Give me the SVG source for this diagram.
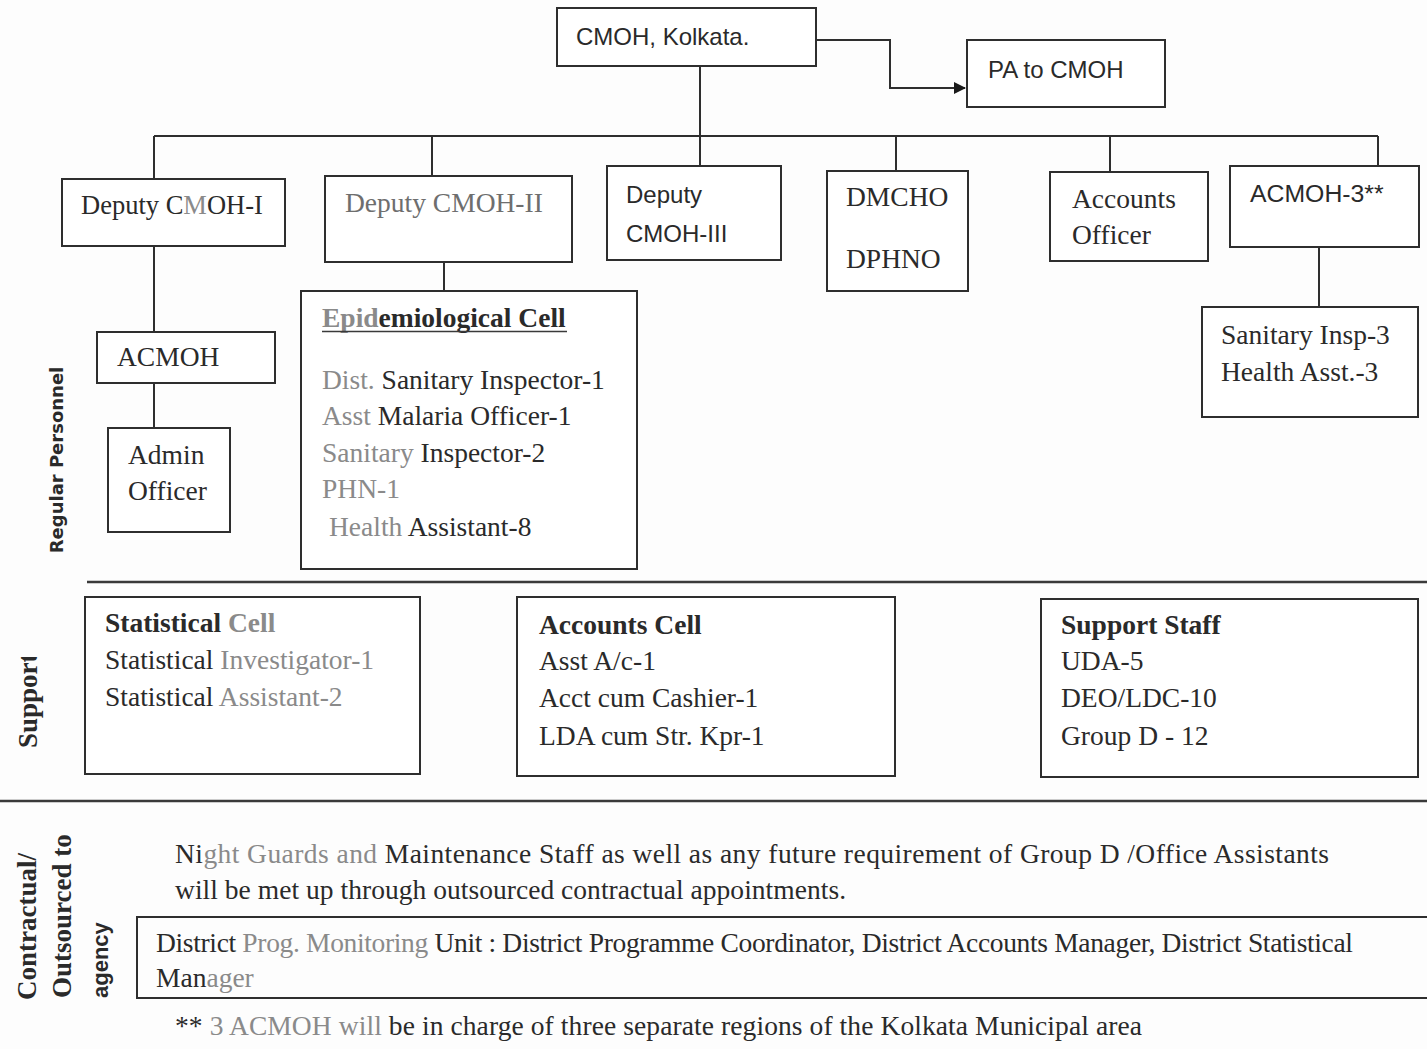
<svg xmlns="http://www.w3.org/2000/svg" width="1427" height="1049" viewBox="0 0 1427 1049">
  <defs>
    <style>
      .box { fill: #ffffff; stroke: #2e2e2e; stroke-width: 2; }
      .ln { fill: none; stroke: #2e2e2e; stroke-width: 2; }
      .sep { fill: none; stroke: #3a3a3a; stroke-width: 2.5; }
      .serif { font-family: "Liberation Serif", "Times New Roman", serif; font-size: 27.5px; fill: #2a2a2a; }
      .sans { font-family: "Liberation Sans", Arial, sans-serif; font-size: 24px; fill: #2a2a2a; }
      .b { font-weight: bold; }
      .fade { fill: #8a8a8a; }
      .side { font-family: "Liberation Serif", "Times New Roman", serif; font-size: 27px; font-weight: bold; fill: #2a2a2a; }
    </style>
    <marker id="arrow" viewBox="0 0 12 12" refX="11" refY="6" markerWidth="12" markerHeight="12" markerUnits="userSpaceOnUse" orient="auto">
      <path d="M0,0 L12,6 L0,12 Z" fill="#1a1a1a"/>
    </marker>
    <clipPath id="clipSupport"><rect x="0" y="657" width="60" height="100"/></clipPath>
    <clipPath id="clipAgency"><rect x="95" y="900" width="20" height="110"/></clipPath>
  </defs>

  <rect x="0" y="0" width="1427" height="1049" fill="#fdfdfd"/>

  <!-- connectors -->
  <g id="connectors">
    <path class="ln" d="M816,40 H890 V88 H965" marker-end="url(#arrow)"/>
    <path class="ln" d="M700,66 V136"/>
    <path class="ln" d="M154,136 H1378"/>
    <path class="ln" d="M154,136 V179"/>
    <path class="ln" d="M432,136 V176"/>
    <path class="ln" d="M700,136 V166"/>
    <path class="ln" d="M896,136 V171"/>
    <path class="ln" d="M1110,136 V172"/>
    <path class="ln" d="M1378,136 V166"/>
    <path class="ln" d="M154,246 V332"/>
    <path class="ln" d="M154,383 V428"/>
    <path class="ln" d="M444,262 V291"/>
    <path class="ln" d="M1319,247 V307"/>
  </g>

  <!-- section dividers -->
  <g id="dividers">
    <path class="sep" d="M87,582 H1427"/>
    <path class="sep" d="M0,801 H1427"/>
  </g>

  <!-- section labels -->
  <g id="section-labels">
    <text transform="translate(63,460) rotate(-90)" text-anchor="middle" font-family="'DejaVu Sans', Verdana, sans-serif" font-size="18" font-weight="bold" fill="#2a2a2a">Regular Personnel</text>
    <g clip-path="url(#clipSupport)">
      <text class="side" transform="translate(37,748) rotate(-90)">Support</text>
    </g>
    <text class="side" transform="translate(36,1000) rotate(-90)">Contractual/</text>
    <text class="side" transform="translate(71,998) rotate(-90)">Outsourced to</text>
    <g clip-path="url(#clipAgency)">
      <text transform="translate(108,998) rotate(-90)" font-family="'Liberation Sans', Arial, sans-serif" font-size="22" font-weight="bold" fill="#2a2a2a">agency</text>
    </g>
  </g>

  <g id="cmoh">
    <rect class="box" x="557" y="8" width="259" height="58"/>
    <text class="sans" x="576" y="45">CMOH, Kolkata.</text>
  </g>

  <g id="pa-to-cmoh">
    <rect class="box" x="967" y="40" width="198" height="67"/>
    <text class="sans" x="988" y="78">PA to CMOH</text>
  </g>

  <g id="deputy-cmoh-1">
    <rect class="box" x="62" y="179" width="223" height="67"/>
    <text class="serif" x="81" y="214" style="font-size:26.5px">Deputy C<tspan class="fade">M</tspan>OH-I</text>
  </g>

  <g id="deputy-cmoh-2">
    <rect class="box" x="325" y="176" width="247" height="86"/>
    <text class="serif" x="345" y="212" style="fill:#6e6e6e">Deputy CMOH-II</text>
  </g>

  <g id="deputy-cmoh-3">
    <rect class="box" x="607" y="166" width="174" height="94"/>
    <text class="sans" x="626" y="203">Deputy</text>
    <text class="sans" x="626" y="242">CMOH-III</text>
  </g>

  <g id="dmcho-dphno">
    <rect class="box" x="827" y="171" width="141" height="120"/>
    <text class="serif" x="846" y="206">DMCHO</text>
    <text class="serif" x="846" y="268">DPHNO</text>
  </g>

  <g id="accounts-officer">
    <rect class="box" x="1050" y="172" width="158" height="89"/>
    <text class="serif" x="1072" y="208">Accounts</text>
    <text class="serif" x="1072" y="244">Officer</text>
  </g>

  <g id="acmoh-3">
    <rect class="box" x="1230" y="166" width="189" height="81"/>
    <text class="sans" x="1250" y="202" style="font-size:24.8px">ACMOH-3**</text>
  </g>

  <g id="acmoh-3-staff">
    <rect class="box" x="1202" y="307" width="216" height="110"/>
    <text class="serif" x="1221" y="344">Sanitary Insp-3</text>
    <text class="serif" x="1221" y="381">Health Asst.-3</text>
  </g>

  <g id="acmoh">
    <rect class="box" x="97" y="332" width="178" height="51"/>
    <text class="serif" x="117" y="366">ACMOH</text>
  </g>

  <g id="admin-officer">
    <rect class="box" x="108" y="428" width="122" height="104"/>
    <text class="serif" x="128" y="464">Admin</text>
    <text class="serif" x="128" y="500">Officer</text>
  </g>

  <g id="epidemiological-cell">
    <rect class="box" x="301" y="291" width="336" height="278"/>
    <text class="serif b" x="322" y="327"><tspan class="fade">Epid</tspan>emiological Cell</text>
    <path d="M322,331.5 H567" stroke="#3a3a3a" stroke-width="1.6"/>
    <text class="serif" x="322" y="389"><tspan class="fade">Dist.</tspan> Sanitary Inspector-1</text>
    <text class="serif" x="322" y="425"><tspan class="fade">Asst</tspan> Malaria Officer-1</text>
    <text class="serif" x="322" y="462"><tspan class="fade">Sanitary</tspan> Inspector-2</text>
    <text class="serif" x="322" y="498"><tspan class="fade">PHN-1</tspan></text>
    <text class="serif" x="329" y="536"><tspan class="fade">Health</tspan> Assistant-8</text>
  </g>

  <g id="statistical-cell">
    <rect class="box" x="85" y="597" width="335" height="177"/>
    <text class="serif" x="105" y="632"><tspan class="b">Statistical</tspan> <tspan class="b fade">Cell</tspan></text>
    <text class="serif" x="105" y="669">Statistical <tspan class="fade">Investigator-1</tspan></text>
    <text class="serif" x="105" y="706">Statistical <tspan class="fade">Assistant-2</tspan></text>
  </g>

  <g id="accounts-cell">
    <rect class="box" x="517" y="597" width="378" height="179"/>
    <text class="serif b" x="539" y="634">Accounts Cell</text>
    <text class="serif" x="539" y="670">Asst A/c-1</text>
    <text class="serif" x="539" y="707">Acct cum Cashier-1</text>
    <text class="serif" x="539" y="745">LDA cum Str. Kpr-1</text>
  </g>

  <g id="support-staff">
    <rect class="box" x="1041" y="599" width="377" height="178"/>
    <text class="serif b" x="1061" y="634">Support Staff</text>
    <text class="serif" x="1061" y="670">UDA-5</text>
    <text class="serif" x="1061" y="707">DEO/LDC-10</text>
    <text class="serif" x="1061" y="745">Group D - 12</text>
  </g>

  <g id="outsourced-note">
    <text class="serif" x="175" y="863" textLength="1154" lengthAdjust="spacing">Ni<tspan class="fade">ght Guards and</tspan> Maintenance Staff as well as any future requirement of Group D /Office Assistants</text>
    <text class="serif" x="175" y="899" textLength="671" lengthAdjust="spacing">will be met up through outsourced contractual appointments.</text>
  </g>

  <g id="district-pmu">
    <path class="ln" d="M1427,917 H137 V998 H1427"/>
    <text class="serif" x="156" y="952" textLength="1197" lengthAdjust="spacing">District  <tspan class="fade">Prog. Monitoring</tspan> Unit : District Programme Coordinator, District Accounts Manager, District Statistical</text>
    <text class="serif" x="156" y="987">Man<tspan class="fade">ager</tspan></text>
  </g>

  <g id="footnote">
    <text class="serif" x="175" y="1035" textLength="967" lengthAdjust="spacing">** <tspan class="fade">3 ACMOH will</tspan> be in charge of three separate regions of the Kolkata Municipal area</text>
  </g>
</svg>
